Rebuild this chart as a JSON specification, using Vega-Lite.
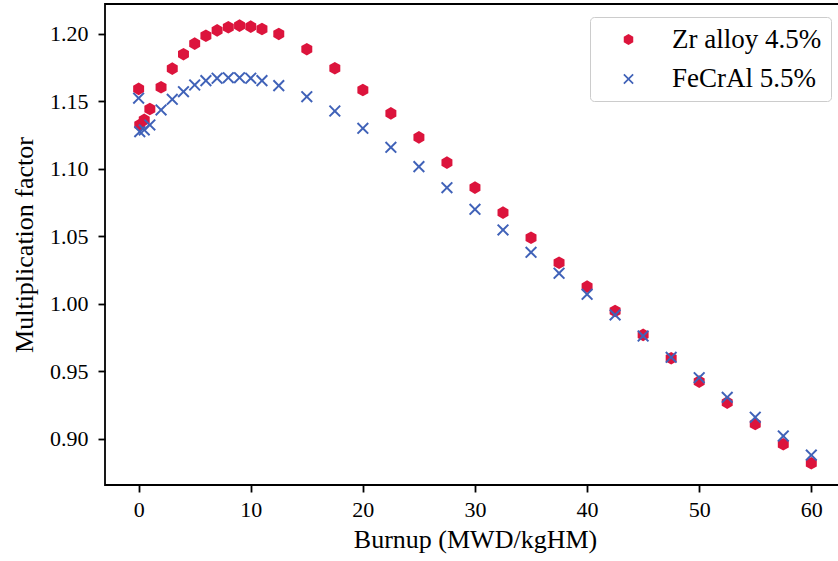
{
  "$schema": "https://vega.github.io/schema/vega-lite/v6.json",
  "width": 734,
  "height": 481,
  "autosize": {"type": "none"},
  "padding": {"left": 105, "top": 4, "right": 0, "bottom": 76},
  "background": "white",
  "config": {
    "font": "Liberation Serif",
    "view": {"stroke": "black", "strokeWidth": 1.8},
    "axis": {
      "domain": false,
      "grid": false,
      "ticks": true,
      "tickColor": "black",
      "tickWidth": 1.8,
      "tickSize": 7,
      "labelFont": "Liberation Serif",
      "labelFontSize": 22,
      "labelColor": "black",
      "labelPadding": 6,
      "titleFont": "Liberation Serif",
      "titleFontSize": 26,
      "titleFontWeight": "normal",
      "titleColor": "black"
    },
    "legend": {
      "labelFont": "Liberation Serif",
      "labelFontSize": 27,
      "labelColor": "black"
    }
  },
  "data": {
    "values": [
      {"series": "Zr alloy 4.5%", "burnup": 0, "k": 1.1593},
      {"series": "Zr alloy 4.5%", "burnup": 0.1, "k": 1.1326},
      {"series": "Zr alloy 4.5%", "burnup": 0.5, "k": 1.1363},
      {"series": "Zr alloy 4.5%", "burnup": 1, "k": 1.1444},
      {"series": "Zr alloy 4.5%", "burnup": 2, "k": 1.1605},
      {"series": "Zr alloy 4.5%", "burnup": 3, "k": 1.1743},
      {"series": "Zr alloy 4.5%", "burnup": 4, "k": 1.185},
      {"series": "Zr alloy 4.5%", "burnup": 5, "k": 1.1928},
      {"series": "Zr alloy 4.5%", "burnup": 6, "k": 1.1987},
      {"series": "Zr alloy 4.5%", "burnup": 7, "k": 1.2027},
      {"series": "Zr alloy 4.5%", "burnup": 8, "k": 1.205},
      {"series": "Zr alloy 4.5%", "burnup": 9, "k": 1.2062},
      {"series": "Zr alloy 4.5%", "burnup": 10, "k": 1.2054},
      {"series": "Zr alloy 4.5%", "burnup": 11, "k": 1.2037},
      {"series": "Zr alloy 4.5%", "burnup": 12.5, "k": 1.2},
      {"series": "Zr alloy 4.5%", "burnup": 15, "k": 1.1887},
      {"series": "Zr alloy 4.5%", "burnup": 17.5, "k": 1.1746},
      {"series": "Zr alloy 4.5%", "burnup": 20, "k": 1.1585},
      {"series": "Zr alloy 4.5%", "burnup": 22.5, "k": 1.1412},
      {"series": "Zr alloy 4.5%", "burnup": 25, "k": 1.1234},
      {"series": "Zr alloy 4.5%", "burnup": 27.5, "k": 1.1047},
      {"series": "Zr alloy 4.5%", "burnup": 30, "k": 1.0861},
      {"series": "Zr alloy 4.5%", "burnup": 32.5, "k": 1.0676},
      {"series": "Zr alloy 4.5%", "burnup": 35, "k": 1.049},
      {"series": "Zr alloy 4.5%", "burnup": 37.5, "k": 1.0305},
      {"series": "Zr alloy 4.5%", "burnup": 40, "k": 1.0128},
      {"series": "Zr alloy 4.5%", "burnup": 42.5, "k": 0.9947},
      {"series": "Zr alloy 4.5%", "burnup": 45, "k": 0.977},
      {"series": "Zr alloy 4.5%", "burnup": 47.5, "k": 0.9597},
      {"series": "Zr alloy 4.5%", "burnup": 50, "k": 0.9424},
      {"series": "Zr alloy 4.5%", "burnup": 52.5, "k": 0.9268},
      {"series": "Zr alloy 4.5%", "burnup": 55, "k": 0.911},
      {"series": "Zr alloy 4.5%", "burnup": 57.5, "k": 0.896},
      {"series": "Zr alloy 4.5%", "burnup": 60, "k": 0.8819},
      {"series": "FeCrAl 5.5%", "burnup": 0, "k": 1.1524},
      {"series": "FeCrAl 5.5%", "burnup": 0.1, "k": 1.1276},
      {"series": "FeCrAl 5.5%", "burnup": 0.5, "k": 1.1289},
      {"series": "FeCrAl 5.5%", "burnup": 1, "k": 1.1326},
      {"series": "FeCrAl 5.5%", "burnup": 2, "k": 1.1437},
      {"series": "FeCrAl 5.5%", "burnup": 3, "k": 1.1516},
      {"series": "FeCrAl 5.5%", "burnup": 4, "k": 1.1572},
      {"series": "FeCrAl 5.5%", "burnup": 5, "k": 1.1622},
      {"series": "FeCrAl 5.5%", "burnup": 6, "k": 1.1654},
      {"series": "FeCrAl 5.5%", "burnup": 7, "k": 1.1672},
      {"series": "FeCrAl 5.5%", "burnup": 8, "k": 1.1676},
      {"series": "FeCrAl 5.5%", "burnup": 9, "k": 1.1676},
      {"series": "FeCrAl 5.5%", "burnup": 10, "k": 1.1672},
      {"series": "FeCrAl 5.5%", "burnup": 11, "k": 1.1654},
      {"series": "FeCrAl 5.5%", "burnup": 12.5, "k": 1.1617},
      {"series": "FeCrAl 5.5%", "burnup": 15, "k": 1.1535},
      {"series": "FeCrAl 5.5%", "burnup": 17.5, "k": 1.1429},
      {"series": "FeCrAl 5.5%", "burnup": 20, "k": 1.1301},
      {"series": "FeCrAl 5.5%", "burnup": 22.5, "k": 1.116},
      {"series": "FeCrAl 5.5%", "burnup": 25, "k": 1.1017},
      {"series": "FeCrAl 5.5%", "burnup": 27.5, "k": 1.0861},
      {"series": "FeCrAl 5.5%", "burnup": 30, "k": 1.0701},
      {"series": "FeCrAl 5.5%", "burnup": 32.5, "k": 1.0548},
      {"series": "FeCrAl 5.5%", "burnup": 35, "k": 1.0382},
      {"series": "FeCrAl 5.5%", "burnup": 37.5, "k": 1.0227},
      {"series": "FeCrAl 5.5%", "burnup": 40, "k": 1.0071},
      {"series": "FeCrAl 5.5%", "burnup": 42.5, "k": 0.9918},
      {"series": "FeCrAl 5.5%", "burnup": 45, "k": 0.9762},
      {"series": "FeCrAl 5.5%", "burnup": 47.5, "k": 0.9604},
      {"series": "FeCrAl 5.5%", "burnup": 50, "k": 0.9453},
      {"series": "FeCrAl 5.5%", "burnup": 52.5, "k": 0.9308},
      {"series": "FeCrAl 5.5%", "burnup": 55, "k": 0.916},
      {"series": "FeCrAl 5.5%", "burnup": 57.5, "k": 0.9021},
      {"series": "FeCrAl 5.5%", "burnup": 60, "k": 0.888}
    ]
  },
  "mark": {"type": "point", "filled": true, "size": 160, "opacity": 1, "strokeWidth": 0},
  "encoding": {
    "x": {
      "field": "burnup",
      "type": "quantitative",
      "scale": {"domain": [-3, 62.47], "nice": false, "zero": false},
      "axis": {
        "title": "Burnup (MWD/kgHM)",
        "values": [0, 10, 20, 30, 40, 50, 60],
        "titleX": 370,
        "labelPadding": 7,
        "titlePadding": 6
      }
    },
    "y": {
      "field": "k",
      "type": "quantitative",
      "scale": {"domain": [0.8658, 1.2222], "nice": false, "zero": false},
      "axis": {
        "title": "Multiplication factor",
        "values": [0.9, 0.95, 1.0, 1.05, 1.1, 1.15, 1.2],
        "format": ".2f",
        "labelPadding": 10,
        "titlePadding": 12
      }
    },
    "color": {
      "field": "series",
      "type": "nominal",
      "sort": null,
      "scale": {"domain": ["Zr alloy 4.5%", "FeCrAl 5.5%"], "range": ["#DC143C", "#4062B8"]},
      "legend": {
        "title": null,
        "orient": "none",
        "legendX": 485,
        "legendY": 13,
        "padding": 9,
        "strokeColor": "#cccccc",
        "fillColor": "white",
        "cornerRadius": 4,
        "symbolSize": 120,
        "symbolStrokeWidth": 0,
        "symbolOffset": 16,
        "labelOffset": 30,
        "rowPadding": 11.5
      }
    },
    "shape": {
      "field": "series",
      "type": "nominal",
      "sort": null,
      "scale": {
        "domain": ["Zr alloy 4.5%", "FeCrAl 5.5%"],
        "range": [
          "M0,-1L0.866,-0.5L0.866,0.5L0,1L-0.866,0.5L-0.866,-0.5Z",
          "M0.956,-0.735L0.221,0L0.956,0.735L0.735,0.956L0,0.221L-0.735,0.956L-0.956,0.735L-0.221,0L-0.956,-0.735L-0.735,-0.956L0,-0.221L0.735,-0.956Z"
        ]
      }
    }
  }
}
